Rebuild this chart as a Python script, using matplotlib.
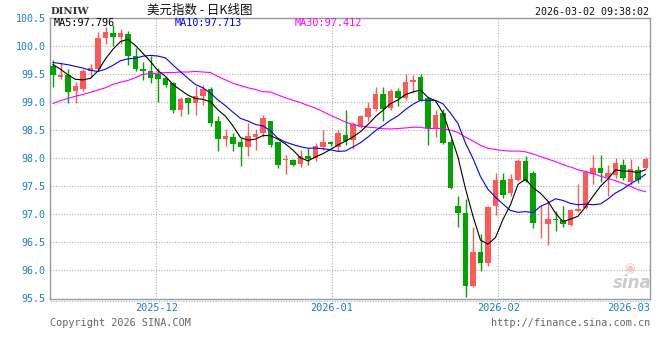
import matplotlib
matplotlib.use("Agg")
import matplotlib.pyplot as plt
import numpy as np
import pandas as pd
from matplotlib.lines import Line2D

# ---- data ----
opens = [99.64, 99.45, 99.47, 99.19, 99.22, 99.55, 99.58, 100.14, 100.23, 100.16,
         100.20, 99.82, 99.59, 99.55, 99.50, 99.42, 99.33, 98.86, 99.06, 98.97,
         99.11, 99.23, 98.65, 98.34, 98.38, 98.29, 98.20, 98.38, 98.44, 98.65,
         98.28, 97.96, 97.96, 97.90, 98.04, 98.00, 98.19, 98.28, 98.19, 98.41,
         98.32, 98.56, 98.73, 98.87, 99.13, 98.89, 99.20, 99.07, 99.35, 99.45,
         99.06, 98.53, 98.80, 98.28, 97.14, 97.03, 95.72, 96.33, 96.14, 97.14,
         97.61, 97.38, 97.61, 97.95, 97.74, 96.84, 96.83, 96.91, 96.90, 96.81,
         97.06, 97.11, 97.71, 97.83, 97.67, 97.70, 97.88, 97.57, 97.79, 97.83]
highs = [99.75, 99.70, 99.58, 99.36, 99.58, 99.67, 100.24, 100.33, 100.36, 100.30,
         100.26, 99.96, 99.71, 99.82, 99.60, 99.44, 99.36, 99.08, 99.09, 99.29,
         99.30, 99.27, 98.75, 98.51, 98.44, 98.35, 98.62, 98.52, 98.76, 98.66,
         98.29, 98.06, 97.98, 98.15, 98.18, 98.27, 98.50, 98.30, 98.50, 98.85,
         98.64, 98.77, 99.00, 99.27, 99.26, 99.23, 99.25, 99.50, 99.48, 99.50,
         99.07, 98.85, 98.87, 98.33, 97.33, 97.27, 96.78, 96.65, 97.15, 97.73,
         97.73, 97.72, 97.99, 98.03, 97.76, 97.16, 97.23, 97.06, 97.15, 97.10,
         97.53, 97.78, 98.06, 98.06, 97.88, 98.00, 97.99, 97.99, 97.85, 98.01]
lows = [99.27, 99.41, 98.97, 98.98, 99.20, 99.45, 99.56, 100.02, 99.99, 100.03,
        99.65, 99.55, 99.39, 99.33, 99.00, 99.27, 98.80, 98.74, 98.79, 98.77,
        98.95, 98.57, 98.12, 98.21, 98.12, 97.85, 98.04, 98.15, 98.38, 98.19,
        97.82, 97.72, 97.85, 97.84, 97.88, 97.94, 98.15, 98.22, 98.12, 98.24,
        98.16, 98.53, 98.66, 98.83, 98.65, 98.85, 98.92, 99.04, 99.16, 99.02,
        98.24, 98.37, 98.25, 97.45, 96.78, 95.53, 95.70, 95.99, 96.08, 96.98,
        97.29, 97.32, 97.59, 97.57, 96.76, 96.58, 96.46, 96.70, 96.77, 96.79,
        97.04, 97.09, 97.53, 97.57, 97.33, 97.64, 97.61, 97.52, 97.55, 97.81]
closes = [99.47, 99.48, 99.17, 99.29, 99.54, 99.61, 100.14, 100.24, 100.15, 100.22,
          99.81, 99.58, 99.54, 99.43, 99.41, 99.30, 98.86, 99.05, 98.97, 99.11,
          99.23, 98.63, 98.34, 98.40, 98.25, 98.20, 98.40, 98.43, 98.72, 98.24,
          97.88, 97.98, 97.88, 98.03, 97.98, 98.22, 98.28, 98.25, 98.44, 98.31,
          98.60, 98.74, 98.89, 99.14, 98.88, 99.19, 99.07, 99.36, 99.38, 99.04,
          98.54, 98.77, 98.27, 97.47, 97.02, 95.73, 96.33, 96.14, 97.12, 97.61,
          97.34, 97.63, 97.95, 97.59, 96.84, 96.85, 96.92, 96.89, 96.83, 97.08,
          97.10, 97.75, 97.83, 97.73, 97.73, 97.91, 97.64, 97.81, 97.61, 97.99]

# moving-average values at the left edge (need history before the window)
ma5_lead = [99.66, 99.58, 99.48, 99.40]
ma10_lead = [99.70, 99.68, 99.66, 99.63, 99.60, 99.56, 99.54, 99.58, 99.65]
ma30_lead = [98.97, 99.02, 99.06, 99.10, 99.13, 99.17, 99.21, 99.25, 99.31, 99.35,
             99.38, 99.43, 99.49, 99.50, 99.51, 99.52, 99.52, 99.53, 99.53, 99.54,
             99.53, 99.52, 99.45, 99.39, 99.33, 99.29, 99.25, 99.22, 99.18]

ma_names = ["MA5", "MA10", "MA30"]
ma_last = [97.796, 97.713, 97.412]

month_labels = ["2025-12", "2026-01", "2026-02", "2026-03"]
y_ticks = [95.5, 96.0, 96.5, 97.0, 97.5, 98.0, 98.5, 99.0, 99.5, 100.0, 100.5]

title_text = "美元指数 - 日K线图"
symbol_text = "DINIW"
time_text = "2026-03-02 09:38:02"
copyright_text = "Copyright 2026 SINA.COM"
url_text = "http://finance.sina.com.cn"

# ---- positions / styles ----
month_pos = [13.77, 37.16, 59.37, 79.6]
RED = "#FF5858"
GREEN = "#00A300"
AXBLUE = "#1A7FCC"
GRID = "#ABABAB"
MONO = "DejaVu Sans Mono"

o = np.array(opens); h = np.array(highs); l = np.array(lows); c = np.array(closes)
n = len(c)
x = np.arange(n)

def ma(lead, w):
    r = pd.Series(c).rolling(w).mean().to_numpy()
    r[:len(lead)] = lead
    return r

ma5 = ma(ma5_lead, 5)
ma10 = ma(ma10_lead, 10)
ma30 = ma(ma30_lead, 30)

fig = plt.figure(figsize=(6.6, 3.6), dpi=100)
ax = fig.add_axes([50 / 660, 1 - 298.5 / 360, 600 / 660, 281 / 360])
ax.set_xlim(-0.4, 79.6)
ax.set_ylim(95.5, 100.5)

# grid
for yv in y_ticks[1:-1]:
    ax.axhline(yv, color=GRID, lw=0.75, ls=(0, (1, 1.6)), zorder=0)
for xv in month_pos:
    ax.axvline(xv, color=GRID, lw=0.75, ls=(0, (1, 1.6)), zorder=0)

# candles
up = c >= o
cols = np.where(up, RED, GREEN)
ax.vlines(x, l, h, colors=cols, lw=1.0, zorder=2)
bottoms = np.minimum(o, c)
heights = np.maximum(np.abs(c - o), 0.012)
ax.bar(x, heights, bottom=bottoms, width=0.74, color=cols, edgecolor=cols,
       linewidth=0, zorder=3)

# MA lines
ax.plot(x, ma30, color="#FF00FF", lw=0.8, zorder=4)
ax.plot(x, ma10, color="#0000FF", lw=0.8, zorder=4)
ax.plot(x, ma5, color="#000000", lw=0.8, zorder=5)

# axes styling
for s in ax.spines.values():
    s.set_color("#9A9A9A")
    s.set_linewidth(1.0)
ax.set_yticks(y_ticks)
ax.set_yticklabels([f"{v:.1f}" for v in y_ticks], family=MONO, fontsize=7.2, color=AXBLUE)
ax.tick_params(axis="y", length=0, pad=3)
ax.set_xticks([])

# extra dotted line beneath the bottom axis
fig.add_artist(Line2D([50 / 660, 650 / 660], [1 - 300.7 / 360] * 2, color=GRID,
                      lw=0.75, ls=(0, (1, 1.6))))

# month labels
for i, (lab, xv) in enumerate(zip(month_labels, month_pos)):
    ha = "right" if i == len(month_labels) - 1 else "center"
    ax.text(xv, -0.035, lab, transform=ax.get_xaxis_transform(), ha=ha, va="center",
            family=MONO, fontsize=7.4, color=AXBLUE)

# header texts
fig.text(51 / 660, 1 - 12 / 360, symbol_text, family="DejaVu Serif", fontweight="bold",
         fontsize=7.2, color="#333333", ha="left", va="center")
fig.text(200 / 660, 1 - 10.5 / 360, title_text, family=["Noto Sans CJK SC", "DejaVu Sans"],
         fontsize=9, color="#111111", ha="center", va="center")
fig.text(649 / 660, 1 - 12.3 / 360, time_text, family=MONO, fontsize=7.2,
         color="#111111", ha="right", va="center")

ma_cols = ["#000000", "#0000FF", "#FF00FF"]
ma_x = [54, 175, 295]
for name, val, col, xx in zip(ma_names, ma_last, ma_cols, ma_x):
    fig.text(xx / 660, 1 - 23.5 / 360, f"{name}:{val:.3f}", family=MONO, fontsize=7.3,
             color=col, ha="left", va="center")

# footer
fig.text(50 / 660, 1 - 323.5 / 360, copyright_text, family=MONO, fontsize=7.3,
         color="#666666", ha="left", va="center")
fig.text(650 / 660, 1 - 323.5 / 360, url_text, family=MONO, fontsize=7.3,
         color="#666666", ha="right", va="center")

# faint watermark
fig.text(632 / 660, 1 - 283 / 360, "sina", fontsize=12, fontweight="bold",
         fontstyle="italic", color="#CCCCCC", ha="center", va="center")
fig.text(630 / 660, 1 - 269 / 360, "◉", fontsize=9, color="#F2C4C4",
         ha="center", va="center")

fig.savefig("out.png", dpi=100)
